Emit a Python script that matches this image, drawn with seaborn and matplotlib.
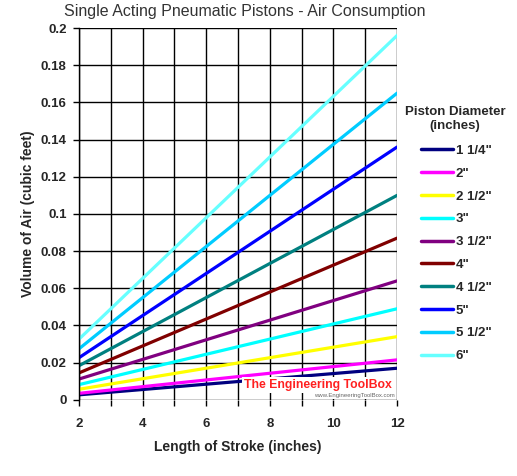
import pandas as pd
from matplotlib import pyplot as plt
import seaborn as sns

# piston diameters and air volume (cu ft) read at stroke 2" and 12"
diameters = ['1 1/4"', '2"', '2 1/2"', '3"', '3 1/2"', '4"', '4 1/2"', '5"', '5 1/2"', '6"']
stroke = [2, 12]
vol_2 = [0.0027, 0.0035, 0.0057, 0.0082, 0.0112, 0.0145, 0.0184, 0.0227, 0.0275, 0.0327]
vol_12 = [0.0170, 0.0215, 0.0340, 0.0490, 0.0640, 0.0870, 0.1100, 0.1360, 0.1650, 0.1960]
colors = ['#000080', '#ff00ff', '#ffff00', '#00ffff', '#800080',
          '#800000', '#008080', '#0000ff', '#00ccff', '#66ffff']

rows = []
for d, a, b in zip(diameters, vol_2, vol_12):
    rows.append({'stroke': stroke[0], 'vol': a, 'dia': d})
    rows.append({'stroke': stroke[1], 'vol': b, 'dia': d})
df = pd.DataFrame(rows)

sns.set_style('white')
plt.rcParams['font.family'] = ['Liberation Sans', 'DejaVu Sans']

fig = plt.figure(figsize=(5.17, 4.76), dpi=100)
ax = fig.add_axes([0.153, 0.160, 0.615, 0.781])

g = sns.lineplot(data=df, x='stroke', y='vol', hue='dia', hue_order=diameters,
                 palette=colors, linewidth=2.3, ax=ax)

ax.set_xlim(2, 12)
ax.set_ylim(0, 0.2)
ax.set_xticks(range(2, 13))
ax.set_xticklabels(['2', '', '4', '', '6', '', '8', '', '10', '', '12'])
yt = [i * 0.02 for i in range(11)]
ax.set_yticks(yt)
ax.set_yticklabels(['0', '0.02', '0.04', '0.06', '0.08', '0.1', '0.12', '0.14', '0.16', '0.18', '0.2'])
ax.grid(True, color='black', linewidth=1)
ax.set_axisbelow(True)
for s in ['top', 'right', 'bottom']:
    ax.spines[s].set_visible(False)
ax.spines['left'].set_color('black')
ax.spines['left'].set_linewidth(1)
ax.tick_params(axis='both', length=4, width=1, color='black', labelsize=9.5, pad=5, bottom=True, left=True)
for lab in ax.get_xticklabels() + ax.get_yticklabels():
    lab.set_fontweight('bold')
ax.tick_params(axis='x', pad=9)

ax.set_xlabel('Length of Stroke (inches)', fontsize=10, fontweight='bold', labelpad=7)
ax.set_ylabel('Volume of Air (cubic feet)', fontsize=10, fontweight='bold', labelpad=4)
fig.text(0.474, 0.976, 'Single Acting Pneumatic Pistons - Air Consumption',
         ha='center', va='center', fontsize=11.5, color='#333333')

fig.text(455 / 517, 1 - 119 / 476, 'Piston Diameter\n(inches)', ha='center', va='center',
         fontsize=9.5, fontweight='bold', linespacing=1.3)
leg = ax.legend(loc='upper left',
                bbox_to_anchor=(409 / 517, 1 - 133 / 476), bbox_transform=fig.transFigure,
                frameon=False, handlelength=2.45, handletextpad=0.2,
                labelspacing=0.8, prop={'weight': 'bold', 'size': 9.5})
for h in leg.get_lines():
    h.set_linewidth(2.5)

ax.text(7.2, 0.0078, 'The Engineering ToolBox', color='#ff2020', fontsize=8.8,
        fontweight='bold', va='center', ha='left', fontstretch='condensed',
        family=['DejaVu Sans Condensed', 'Liberation Sans Narrow', 'Liberation Sans'],
        bbox=dict(facecolor='white', edgecolor='none', pad=1.5))
ax.text(9.4, 0.0022, 'www.EngineeringToolBox.com', color='#666666', fontsize=4.3,
        va='center', ha='left', bbox=dict(facecolor='white', edgecolor='none', pad=0.5))

plt.savefig('out.png', dpi=100)
